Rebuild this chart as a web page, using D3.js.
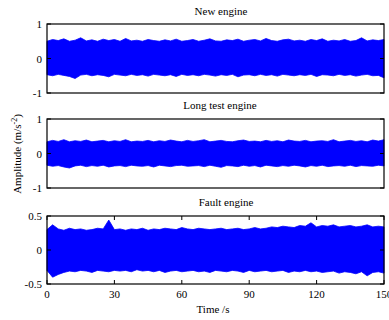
<!DOCTYPE html>
<html>
<head>
<meta charset="utf-8">
<script src="https://cdn.jsdelivr.net/npm/d3@7"></script>
<style>
  html, body { margin: 0; padding: 0; background: #fff; }
  svg { display: block; }
  text { font-family: "Liberation Serif", "Times New Roman", serif; fill: #000; }
</style>
</head>
<body>
<svg id="chart" width="389" height="320"></svg>
<script>
// ---- data (envelope of the vibration signal, sampled every 2.5 s) ----
const timeTicks = [0, 30, 60, 90, 120, 150];
const panelTitles = ["New engine", "Long test engine", "Fault engine"];
const yTicks1 = [-1, 0, 1];
const yTicks2 = [-1, 0, 1];
const yTicks3 = [-0.5, 0, 0.5];
const yTickLabels1 = ["-1", "0", "1"];
const yTickLabels2 = ["-1", "0", "1"];
const yTickLabels3 = ["-0.5", "0", "0.5"];
const sampleTimes = d3.range(0, 150.01, 2.5);

const newUpper = [0.50,0.55,0.52,0.57,0.50,0.53,0.60,0.51,0.54,0.50,0.56,0.52,0.55,0.50,0.58,0.51,0.53,0.50,0.55,0.52,0.50,0.54,0.51,0.56,0.50,0.52,0.55,0.50,0.53,0.57,0.51,0.50,0.54,0.52,0.56,0.50,0.53,0.55,0.51,0.58,0.52,0.50,0.54,0.56,0.51,0.53,0.50,0.55,0.52,0.57,0.50,0.53,0.51,0.55,0.50,0.52,0.60,0.51,0.54,0.52,0.55];
const newLower = [-0.47,-0.50,-0.46,-0.49,-0.52,-0.58,-0.48,-0.46,-0.50,-0.47,-0.49,-0.53,-0.46,-0.48,-0.50,-0.46,-0.49,-0.47,-0.51,-0.46,-0.48,-0.50,-0.47,-0.52,-0.46,-0.49,-0.47,-0.50,-0.46,-0.48,-0.51,-0.47,-0.49,-0.46,-0.53,-0.48,-0.47,-0.50,-0.46,-0.49,-0.47,-0.51,-0.46,-0.48,-0.50,-0.47,-0.49,-0.46,-0.52,-0.47,-0.48,-0.50,-0.46,-0.49,-0.47,-0.51,-0.48,-0.46,-0.50,-0.49,-0.56];

const longUpper = [0.34,0.38,0.35,0.40,0.34,0.37,0.35,0.39,0.34,0.36,0.38,0.34,0.37,0.35,0.40,0.34,0.36,0.35,0.38,0.34,0.37,0.35,0.39,0.36,0.34,0.38,0.35,0.37,0.40,0.34,0.36,0.38,0.35,0.34,0.37,0.39,0.35,0.36,0.34,0.38,0.35,0.37,0.34,0.39,0.36,0.35,0.38,0.34,0.36,0.37,0.35,0.40,0.34,0.36,0.38,0.35,0.37,0.34,0.39,0.36,0.40];
const longLower = [-0.34,-0.37,-0.35,-0.39,-0.42,-0.36,-0.34,-0.38,-0.35,-0.37,-0.34,-0.39,-0.36,-0.35,-0.38,-0.34,-0.36,-0.37,-0.35,-0.39,-0.34,-0.36,-0.38,-0.35,-0.34,-0.37,-0.36,-0.35,-0.38,-0.34,-0.37,-0.40,-0.35,-0.36,-0.38,-0.34,-0.37,-0.35,-0.39,-0.34,-0.36,-0.38,-0.35,-0.37,-0.34,-0.36,-0.39,-0.35,-0.37,-0.34,-0.38,-0.36,-0.35,-0.37,-0.34,-0.38,-0.35,-0.36,-0.37,-0.34,-0.36];

const faultUpper = [0.30,0.37,0.31,0.29,0.32,0.30,0.31,0.29,0.30,0.32,0.31,0.44,0.30,0.31,0.29,0.31,0.30,0.32,0.29,0.31,0.30,0.32,0.31,0.30,0.33,0.31,0.30,0.32,0.31,0.30,0.31,0.32,0.30,0.31,0.32,0.30,0.31,0.33,0.31,0.32,0.34,0.33,0.35,0.34,0.33,0.36,0.35,0.40,0.34,0.36,0.35,0.37,0.34,0.35,0.36,0.34,0.35,0.37,0.34,0.35,0.34];
const faultLower = [-0.30,-0.40,-0.36,-0.33,-0.31,-0.32,-0.30,-0.31,-0.33,-0.30,-0.31,-0.32,-0.30,-0.31,-0.30,-0.32,-0.29,-0.31,-0.30,-0.32,-0.30,-0.33,-0.31,-0.30,-0.32,-0.31,-0.30,-0.32,-0.31,-0.33,-0.30,-0.31,-0.32,-0.30,-0.31,-0.33,-0.30,-0.32,-0.31,-0.30,-0.32,-0.31,-0.30,-0.33,-0.31,-0.32,-0.30,-0.32,-0.31,-0.33,-0.32,-0.31,-0.34,-0.32,-0.33,-0.35,-0.32,-0.38,-0.33,-0.32,-0.34];

// ---- layout ----
const left = 47, right = 384;
const panels = [
  { top: 24,  bottom: 93,  domain: [-1, 1],     ticks: yTicks1, labels: yTickLabels1, upper: newUpper,   lower: newLower,   titleX: 221, titleY: 15,  xTicks: false },
  { top: 119, bottom: 188, domain: [-1, 1],     ticks: yTicks2, labels: yTickLabels2, upper: longUpper,  lower: longLower,  titleX: 220, titleY: 109, xTicks: false },
  { top: 216, bottom: 284, domain: [-0.5, 0.5], ticks: yTicks3, labels: yTickLabels3, upper: faultUpper, lower: faultLower, titleX: 226, titleY: 206, xTicks: true }
];

const svg = d3.select("#chart");
const x = d3.scaleLinear().domain([0, 150]).range([left, right]);

panels.forEach((p, i) => {
  const y = d3.scaleLinear().domain(p.domain).range([p.bottom, p.top]);
  const g = svg.append("g");
  const pts = sampleTimes.map((t, k) => ({ t, u: p.upper[k], l: p.lower[k] }));

  const area = d3.area()
    .x(d => x(d.t))
    .y0(d => y(d.l))
    .y1(d => y(d.u))
    .curve(d3.curveLinear);
  g.append("path").datum(pts).attr("d", area).attr("fill", "#0000ff").attr("stroke", "#0000ff").attr("stroke-width", 0.8);

  // inward ticks
  const tl = 4;
  p.ticks.forEach(v => {
    g.append("line").attr("x1", left).attr("x2", left + tl).attr("y1", y(v)).attr("y2", y(v)).attr("stroke", "#000");
    g.append("line").attr("x1", right).attr("x2", right - tl).attr("y1", y(v)).attr("y2", y(v)).attr("stroke", "#000");
  });
  if (p.xTicks) {
    timeTicks.forEach(v => {
      g.append("line").attr("x1", x(v)).attr("x2", x(v)).attr("y1", p.bottom).attr("y2", p.bottom - tl).attr("stroke", "#000");
      g.append("line").attr("x1", x(v)).attr("x2", x(v)).attr("y1", p.top).attr("y2", p.top + tl).attr("stroke", "#000");
    });
    g.selectAll(".xt").data(timeTicks).enter().append("text")
      .attr("x", d => x(d)).attr("y", 298).attr("text-anchor", "middle")
      .attr("font-size", 11).text(d => d);
  }

  g.selectAll(".yt").data(p.ticks).enter().append("text")
    .attr("x", 42).attr("y", d => y(d) + 4).attr("text-anchor", "end")
    .attr("font-size", 11).text((d, k) => p.labels[k]);

  g.append("rect").attr("x", left).attr("y", p.top)
    .attr("width", right - left).attr("height", p.bottom - p.top)
    .attr("fill", "none").attr("stroke", "#000").attr("stroke-width", 1.2);

  g.append("text").attr("x", p.titleX).attr("y", p.titleY)
    .attr("text-anchor", "middle").attr("font-size", 11).text(panelTitles[i]);
});

svg.append("text").attr("x", 213).attr("y", 313).attr("text-anchor", "middle")
  .attr("font-size", 11).text("Time /s");

const yl = svg.append("text").attr("transform", "translate(21,154) rotate(-90)")
  .attr("text-anchor", "middle").attr("font-size", 11);
yl.append("tspan").text("Amplitude (m/s");
yl.append("tspan").attr("dy", -4).attr("font-size", 8).text("-2");
yl.append("tspan").attr("dy", 4).text(")");
</script>
</body>
</html>
